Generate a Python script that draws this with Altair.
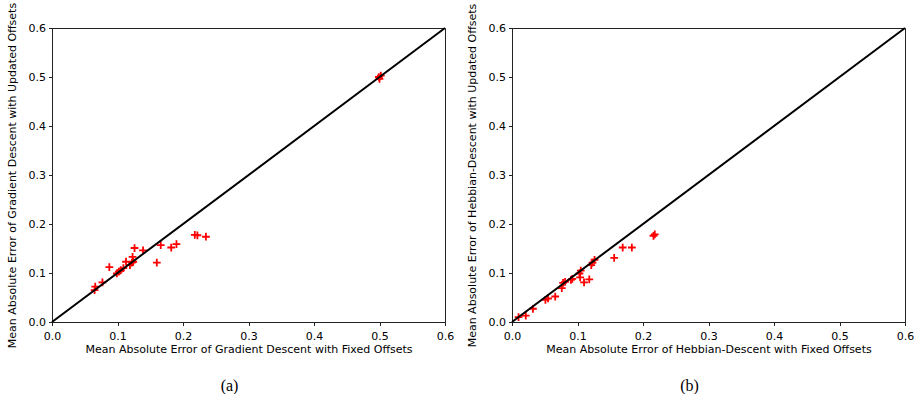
import altair as alt
import pandas as pd

# Panel (a): Gradient Descent fixed vs updated offsets
gd_fixed = [0.065, 0.066, 0.077, 0.0875, 0.099, 0.102, 0.105, 0.109, 0.113, 0.119,
            0.122, 0.124, 0.123, 0.126, 0.139, 0.160, 0.166, 0.182, 0.190, 0.218,
            0.222, 0.235, 0.499, 0.502, 0.500]
gd_updated = [0.065, 0.072, 0.081, 0.112, 0.099, 0.103, 0.106, 0.110, 0.123, 0.116,
              0.121, 0.123, 0.133, 0.151, 0.146, 0.121, 0.157, 0.152, 0.159, 0.178,
              0.177, 0.174, 0.500, 0.503, 0.496]

# Panel (b): Hebbian-Descent fixed vs updated offsets
hd_fixed = [0.010, 0.021, 0.032, 0.051, 0.055, 0.066, 0.076, 0.078, 0.081, 0.090,
            0.092, 0.103, 0.105, 0.104, 0.110, 0.118, 0.121, 0.123, 0.126, 0.156,
            0.169, 0.183, 0.216, 0.218]
hd_updated = [0.010, 0.013, 0.027, 0.045, 0.048, 0.052, 0.069, 0.080, 0.082, 0.086,
              0.088, 0.099, 0.105, 0.091, 0.081, 0.087, 0.116, 0.121, 0.127, 0.131,
              0.152, 0.152, 0.176, 0.179]

diag = [0.0, 0.6]
ticks = [0.0, 0.1, 0.2, 0.3, 0.4, 0.5, 0.6]

PLUS = "M-1,0H1M0,-1V1"
FONT = "DejaVu Sans"


def panel(xs, ys, xtitle, ytitle, label):
    df = pd.DataFrame({"x": xs, "y": ys})
    ddf = pd.DataFrame({"x": diag, "y": diag})
    xscale = alt.Scale(domain=[0, 0.6], nice=False)
    yscale = alt.Scale(domain=[0, 0.6], nice=False)
    xaxis = alt.Axis(values=ticks, format=".1f", title=xtitle, grid=False, labelFlush=False)
    yaxis = alt.Axis(values=ticks, format=".1f", title=ytitle, grid=False, labelFlush=False)
    pts = alt.Chart(df).mark_point(
        shape=PLUS, color="#ff0000", filled=False, strokeWidth=1.8, size=60, opacity=1
    ).encode(
        x=alt.X("x:Q", scale=xscale, axis=xaxis),
        y=alt.Y("y:Q", scale=yscale, axis=yaxis),
    )
    line = alt.Chart(ddf).mark_line(color="black", strokeWidth=2).encode(
        x=alt.X("x:Q", scale=xscale),
        y=alt.Y("y:Q", scale=yscale),
    )
    return alt.layer(pts, line).properties(
        width=393, height=294,
        title=alt.TitleParams(label, orient="bottom", font="Liberation Serif",
                              fontSize=16, fontWeight="normal", color="black",
                              offset=23, dx=-19),
    )


a = panel(gd_fixed, gd_updated,
          "Mean Absolute Error of Gradient Descent with Fixed Offsets",
          "Mean Absolute Error of Gradient Descent with Updated Offsets", "(a)")
b = panel(hd_fixed, hd_updated,
          "Mean Absolute Error of Hebbian-Descent with Fixed Offsets",
          "Mean Absolute Error of Hebbian-Descent with Updated Offsets", "(b)")

chart = alt.hconcat(a, b, spacing=10).properties(
    padding={"left": 5, "top": 1, "right": 0, "bottom": 0},
    background="white",
).configure_view(
    stroke="#222", strokeWidth=1
).configure_axis(
    labelFont=FONT, titleFont=FONT, labelFontSize=11, titleFontSize=11,
    labelColor="black", titleColor="black", titleFontWeight="normal",
    domainColor="#222", tickColor="#222", tickSize=3.5, labelPadding=3,
    domainWidth=1, tickWidth=1,
).configure_axisY(titlePadding=11).configure_axisX(titlePadding=2, labelPadding=5)

chart.save("out.html", embed_options={"renderer": "svg", "actions": False})
